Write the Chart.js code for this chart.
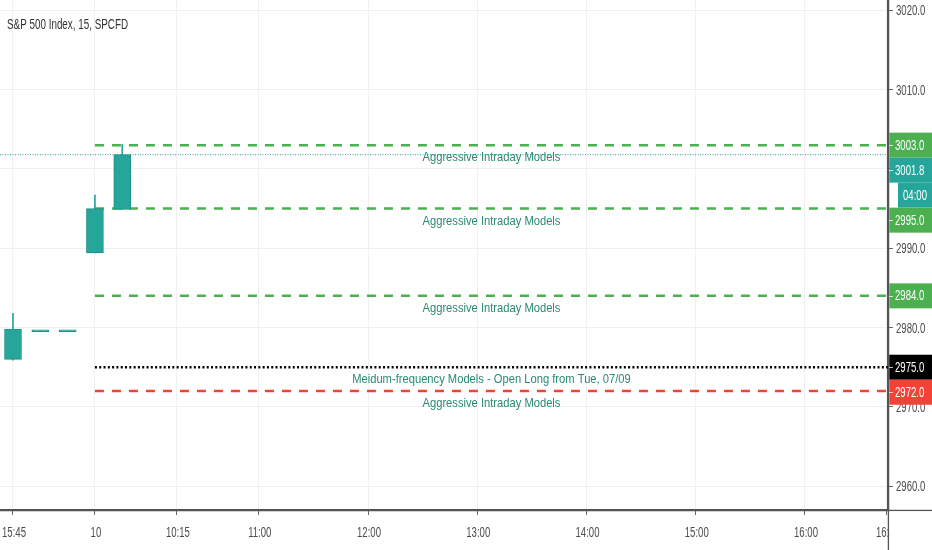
<!DOCTYPE html>
<html>
<head>
<meta charset="utf-8">
<title>S&amp;P 500 Index, 15, SPCFD</title>
<script src="https://cdn.jsdelivr.net/npm/chart.js@4.4.0/dist/chart.umd.min.js"></script>
<style>
  html, body { margin: 0; padding: 0; background: #ffffff; }
  #wrap { position: relative; width: 932px; height: 550px; }
</style>
</head>
<body>
<div id="wrap"><canvas id="chart" width="932" height="550"></canvas></div>
<script>
// --- candles (15 min bars, x = bar index) ---
const barIndex = [0, 1, 2, 3, 4];
const openPx   = [2976.0, 2979.6, 2979.6, 2989.4, 2994.9];
const highPx   = [2981.8, 2979.6, 2979.6, 2996.7, 3003.1];
const lowPx    = [2975.9, 2979.6, 2979.6, 2989.4, 2994.9];
const closePx  = [2979.8, 2979.6, 2979.6, 2995.0, 3001.8];

// --- model levels ---
const levelValues = [3003.0, 2995.0, 2984.0, 2975.0, 2972.0];
const levelTexts  = [
    'Aggressive Intraday Models',
    'Aggressive Intraday Models',
    'Aggressive Intraday Models',
    'Meidum-frequency Models - Open Long from Tue, 07/09',
    'Aggressive Intraday Models'
];
const levelKinds  = ['green', 'green', 'green', 'black', 'red'];
const levelStart  = 3;       // levels begin at the session open bar
const lastPrice   = 3001.8;
const countdown   = '04:00';

// --- axes ---
const yTicks      = [2960, 2970, 2980, 2990, 3000, 3010, 3020];
const xTickPos    = [0, 3, 6, 9, 13, 17, 21, 25, 29, 32];
const xTickLabels = ['15:45', '10', '10:15', '11:00', '12:00', '13:00', '14:00', '15:00', '16:00', '16:45'];
const xMin = -0.476, xMax = 32.04;
const yMin = 2957.0, yMax = 3021.3;

const TEAL = '#26a69a';
const kindStyle = {
    green: { color: '#4caf50', dash: [9, 8], width: 2.5, box: '#4caf50' },
    black: { color: '#000000', dash: [2, 2.3], width: 2.5, box: '#000000' },
    red:   { color: '#f44336', dash: [9, 8], width: 2.5, box: '#f44336' }
};
const FONT = "'Liberation Sans', Arial, sans-serif";

// text in the original is tall and narrow, so squeeze it horizontally
function narrowText(ctx, text, x, y, align, size, sx, color) {
    ctx.save();
    ctx.font = size + 'px ' + FONT;
    ctx.fillStyle = color;
    ctx.textAlign = align;
    ctx.textBaseline = 'middle';
    ctx.translate(x, y);
    ctx.scale(sx, 1);
    ctx.fillText(text, 0, 0);
    ctx.restore();
}

// bodies: floating bars, doji gets a thin sliver so it stays visible
const bodyData = barIndex.map((x, i) => {
    const lo = Math.min(openPx[i], closePx[i]);
    const hi = Math.max(openPx[i], closePx[i]);
    return { x: x, y: hi - lo < 0.2 ? [lo - 0.12, hi + 0.12] : [lo, hi] };
});
const wickData = barIndex.map((x, i) => ({ x: x, y: [lowPx[i], highPx[i]] }));

const levelSets = levelValues.map((v, i) => {
    const st = kindStyle[levelKinds[i]];
    return {
        type: 'line',
        label: levelTexts[i],
        data: [{ x: levelStart, y: v }, { x: xMax, y: v }],
        borderColor: st.color,
        borderWidth: st.width,
        borderDash: st.dash,
        pointRadius: 0,
        order: 2
    };
});

const lastPriceSet = {
    type: 'line',
    label: 'last',
    data: [{ x: xMin, y: lastPrice }, { x: xMax, y: lastPrice }],
    borderColor: TEAL,
    borderWidth: 1,
    borderDash: [1, 1.5],
    pointRadius: 0,
    order: 3
};

// texts under each level line
const levelTextPlugin = {
    id: 'levelText',
    afterDatasetsDraw(chart) {
        const { ctx, chartArea, scales } = chart;
        const cx = (scales.x.getPixelForValue(levelStart) + chartArea.right) / 2;
        levelValues.forEach((v, i) => {
            narrowText(ctx, levelTexts[i], cx, scales.y.getPixelForValue(v) + 12.5, 'center', 13, 0.86, '#2a8a73');
        });
    }
};

// axis labels, price boxes and the title
const overlayPlugin = {
    id: 'overlay',
    afterDraw(chart) {
        const { ctx, chartArea, scales, width, height } = chart;
        const right = chartArea.right;
        const h = 25;

        ctx.save();
        // axis lines running through the corner
        ctx.strokeStyle = '#555555';
        ctx.lineWidth = 1.5;
        ctx.beginPath();
        ctx.moveTo(0, chartArea.bottom + 0.5);
        ctx.lineTo(width, chartArea.bottom + 0.5);
        ctx.moveTo(right + 0.5, 0);
        ctx.lineTo(right + 0.5, height);
        ctx.stroke();

        // tick labels from the scales
        scales.x.ticks.forEach(t => {
            const label = xTickLabels[xTickPos.indexOf(t.value)];
            narrowText(ctx, label, scales.x.getPixelForValue(t.value) + 1, 533, 'center', 14.5, 0.66, '#4c4c4c');
        });
        // hide what runs past the price axis
        ctx.fillStyle = '#ffffff';
        ctx.fillRect(right + 1.3, chartArea.bottom + 1.3, width - right, height - chartArea.bottom);
        scales.y.ticks.forEach(t => {
            narrowText(ctx, t.value.toFixed(1), right + 8, scales.y.getPixelForValue(t.value) + 1, 'left', 14.5, 0.66, '#4c4c4c');
        });

        const items = levelValues.map((v, i) => ({ value: v, bg: kindStyle[levelKinds[i]].box, rows: 1 }));
        items.push({ value: lastPrice, bg: TEAL, rows: 2 });
        items.sort((a, b) => b.value - a.value);

        let prevBottom = -Infinity;
        items.forEach(it => {
            let c = scales.y.getPixelForValue(it.value);
            if (c - h / 2 < prevBottom) c = prevBottom + h / 2;
            const top = c - h / 2;
            ctx.fillStyle = it.bg;
            ctx.fillRect(right + 1.3, top, width - right - 1.3, h);
            ctx.strokeStyle = 'rgba(255,255,255,0.75)';
            ctx.lineWidth = 1;
            ctx.beginPath();
            ctx.moveTo(right + 1, Math.round(c) + 0.5);
            ctx.lineTo(right + 5, Math.round(c) + 0.5);
            ctx.stroke();
            narrowText(ctx, it.value.toFixed(1), right + 7, c + 0.5, 'left', 14.5, 0.66, '#ffffff');
            prevBottom = top + h;
            if (it.rows === 2) {
                ctx.fillStyle = it.bg;
                ctx.fillRect(right + 10, prevBottom, width - right - 10, h);
                narrowText(ctx, countdown, (right + 10 + width) / 2, prevBottom + h / 2 + 0.5, 'center', 14.5, 0.66, '#ffffff');
                prevBottom += h;
            }
        });

        // symbol title
        narrowText(ctx, 'S&P 500 Index, 15, SPCFD', 7, 25, 'left', 14.5, 0.68, '#333333');
        ctx.restore();
    }
};

new Chart(document.getElementById('chart'), {
    type: 'bar',
    data: {
        datasets: [
            {
                label: 'wick',
                data: wickData,
                backgroundColor: TEAL,
                barThickness: 1,
                grouped: false,
                order: 1
            },
            {
                label: 'body',
                data: bodyData,
                backgroundColor: TEAL,
                borderColor: '#1f9185',
                borderWidth: 1,
                borderSkipped: false,
                barThickness: 17,
                grouped: false,
                order: 0
            },
            ...levelSets,
            lastPriceSet
        ]
    },
    options: {
        responsive: false,
        animation: false,
        layout: { padding: 0 },
        plugins: {
            legend: { display: false },
            tooltip: { enabled: false }
        },
        scales: {
            x: {
                type: 'linear',
                min: xMin,
                max: xMax,
                offset: false,
                grid: { color: '#eef0f3', offset: false, tickLength: 5, tickColor: '#666666' },
                border: { color: '#555555', width: 1.5 },
                afterBuildTicks: s => { s.ticks = xTickPos.map(v => ({ value: v })); },
                afterFit: s => { s.height = 40; },
                ticks: { display: false, autoSkip: false, maxRotation: 0 }
            },
            y: {
                type: 'linear',
                position: 'right',
                min: yMin,
                max: yMax,
                grid: { color: '#eef0f3', tickLength: 5, tickColor: '#666666' },
                border: { color: '#555555', width: 1.5 },
                afterBuildTicks: s => { s.ticks = yTicks.map(v => ({ value: v })); },
                afterFit: s => { s.width = 44; },
                ticks: { display: false }
            }
        }
    },
    plugins: [levelTextPlugin, overlayPlugin]
});
</script>
</body>
</html>
